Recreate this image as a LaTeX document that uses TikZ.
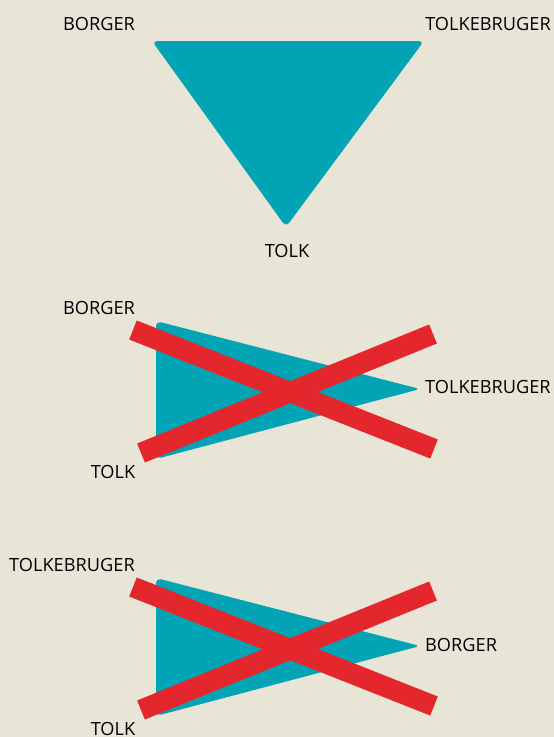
\documentclass[tikz,border=0pt]{standalone}
\usepackage{fontspec}
\setmainfont{Open Sans}
\definecolor{bg}{HTML}{E8E5D6}
\definecolor{teal}{HTML}{00A4B4}
\definecolor{xred}{HTML}{E4262D}
\begin{document}
\begin{tikzpicture}[x=1pt,y=-1pt,
  lbl/.style={font=\fontsize{18.2}{20}\selectfont, text=black, inner sep=0pt},
  tri/.style={fill=teal, rounded corners=5pt},
  cross/.style={draw=xred, line width=20.5pt, line cap=butt}]
\fill[bg] (0,0) rectangle (554,737);
\useasboundingbox (0,0) rectangle (554,737);
% top triangle
\fill[tri] (152,41) -- (424,41) -- (286,227) -- cycle;
\node[lbl] (b1) at (99,24) {BORGER};
\node[lbl, anchor=east] (t1) at (551,24) {TOLKEBRUGER};
\node[lbl] (k1) at (287,251) {TOLK};
% middle
\fill[tri] (156,321) -- (420,389) -- (156,459) -- cycle;
\coordinate (m1a) at (133,330);
\coordinate (m1b) at (434,449);
\coordinate (m2a) at (141,453);
\coordinate (m2b) at (433,334);
\draw[cross] (m1a) -- (m1b);
\draw[cross] (m2a) -- (m2b);
\node[lbl] (b2) at (99,308) {BORGER};
\node[lbl, anchor=west] (t2) at (425,387) {TOLKEBRUGER};
\node[lbl] (k2) at (113,472) {TOLK};
% bottom
\fill[tri] (156,578) -- (420,646) -- (156,716) -- cycle;
\coordinate (n1a) at (133,587);
\coordinate (n1b) at (434,706);
\coordinate (n2a) at (141,710);
\coordinate (n2b) at (433,591);
\draw[cross] (n1a) -- (n1b);
\draw[cross] (n2a) -- (n2b);
\node[lbl] (t3) at (72,565) {TOLKEBRUGER};
\node[lbl, anchor=west] (b3) at (425,645) {BORGER};
\node[lbl] (k3) at (113,729) {TOLK};
\end{tikzpicture}
\end{document}
